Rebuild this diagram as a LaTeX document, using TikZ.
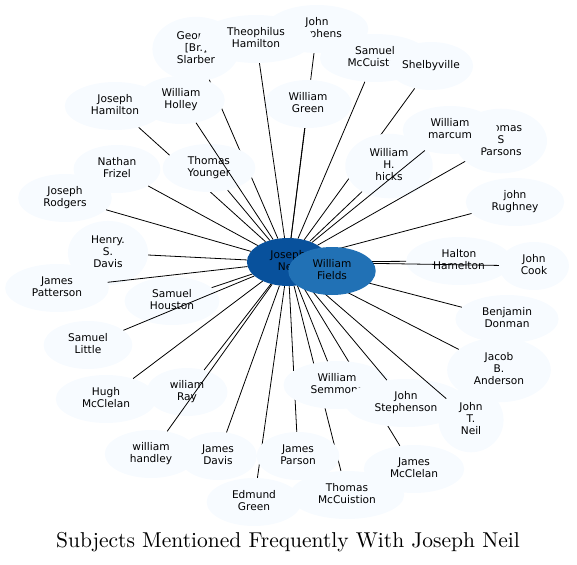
\documentclass[tikz,border=0pt]{standalone}
\usepackage{fontspec}
\newfontfamily\labfont{DejaVu Sans}
\newfontfamily\ttlfont{lmroman10-regular.otf}
\usetikzlibrary{shapes.geometric}
\definecolor{nodefill}{HTML}{F7FBFF}
\definecolor{jnfill}{HTML}{08519C}
\definecolor{wffill}{HTML}{2171B5}
\newcommand\labstrut{\rule[-3.6pt]{0pt}{12pt}}
\pgfdeclarelayer{edgelow}
\pgfdeclarelayer{nodemid}
\pgfdeclarelayer{edgetop}
\pgfdeclarelayer{nodetop}
\pgfsetlayers{main,edgelow,nodemid,edgetop,nodetop}
\tikzset{
  subj/.style={ellipse, fill=nodefill, draw=none, inner xsep=11.5pt, inner ysep=5pt,
    align=center, font=\labfont\fontsize{10.6}{12}\selectfont,
    execute at begin node=\labstrut, execute at end node=\labstrut,
    minimum height=48pt},
  hubone/.style={subj, fill=jnfill},
  hubtwo/.style={subj, fill=wffill},
  link/.style={draw=black, line width=0.8pt},
  titlefont/.style={font=\ttlfont\fontsize{21.5}{24}\selectfont}
}
\begin{document}
\begin{tikzpicture}[x=1pt,y=-1pt]
\useasboundingbox (0,0) rectangle (577,564);
% bottom nodes
\node[subj] (GS) at (196,49) {George\\{[Br.]}\\Slarber};
\node[subj] (JS) at (317,29) {John\\Stephens};
\node[subj] (SM) at (375,58) {Samuel\\McCuiston};
\node[subj] (TSP) at (501,141) {Thomas\\S\\Parsons};
\node[subj] (JH) at (115,106) {Joseph\\Hamilton};
\node[subj] (NF) at (117,169) {Nathan\\Frizel};
\node[subj] (JR) at (65,198) {Joseph\\Rodgers};
\node[subj] (HSD) at (108,253) {Henry.\\S.\\Davis};
\node[subj] (JP) at (57,288) {James\\Patterson};
\node[subj] (SH) at (172,301) {Samuel\\Houston};
\node[subj] (SL) at (88,345) {Samuel\\Little};
\node[subj] (HM) at (106,399) {Hugh\\McClelan};
\node[subj] (wR) at (187,392) {wiliam\\Ray};
\node[subj] (wh) at (151,454) {william\\handley};
\node[subj] (JD) at (218,456) {James\\Davis};
\node[subj] (EG) at (254,502) {Edmund\\Green};
\node[subj] (TMc) at (347,495) {Thomas\\McCuistion};
\node[subj] (JMc) at (414,469) {James\\McClelan};
\node[subj] (JBA) at (499,370) {Jacob\\B.\\Anderson};
\node[subj] (BD) at (507,319) {Benjamin\\Donman};
\node[subj] (HH) at (459,261) {Halton\\Hamelton};
\node[subj] (JC) at (534,266) {John\\Cook};
\node[subj] (jR) at (515,202) {john\\Rughney};
\node[hubone] (JN) at (288,262) {Joseph\\Neil};
% middle nodes
\begin{pgfonlayer}{nodemid}
\node[subj] (TH) at (256,39) {Theophilus\\Hamilton};
\node[subj, inner xsep=1pt] (Shel) at (431,66) {Shelbyville};
\node[subj] (WM) at (450,130) {William\\marcum};
\node[subj] (WHo) at (181,100) {William\\Holley};
\node[subj] (WG) at (308,104) {William\\Green};
\node[subj] (hicks) at (389,166) {William\\H.\\hicks};
\node[subj] (TY) at (209,168) {Thomas\\Younger};
\node[subj] (WS) at (337,385) {William\\Semmons};
\node[subj] (JPa) at (298,456) {James\\Parson};
\node[subj] (JSt) at (406,403) {John\\Stephenson};
\node[subj] (JTN) at (471,420) {John\\T.\\Neil};
\end{pgfonlayer}
\begin{pgfonlayer}{nodetop}
\node[hubtwo] (WF) at (332,271) {William\\Fields};
\end{pgfonlayer}
% connectors
\begin{pgfonlayer}{edgelow}
\foreach \t in {GS,JS,Shel,JH,EG,JPa,TMc,JMc}
  \draw[link] (JN) -- (\t);
\end{pgfonlayer}
\begin{pgfonlayer}{edgetop}
\foreach \t in {TH,WG,SM,WHo,TY,WM,hicks,TSP,jR,HH,JC,BD,JBA,JTN,JSt,WS,JD,wh,wR,HM,SL,SH,JP,HSD,JR,NF}
  \draw[link] (JN) -- (\t);
\end{pgfonlayer}
\node[titlefont] (title) at (288,542) {Subjects Mentioned Frequently With Joseph Neil};
\end{tikzpicture}
\end{document}
